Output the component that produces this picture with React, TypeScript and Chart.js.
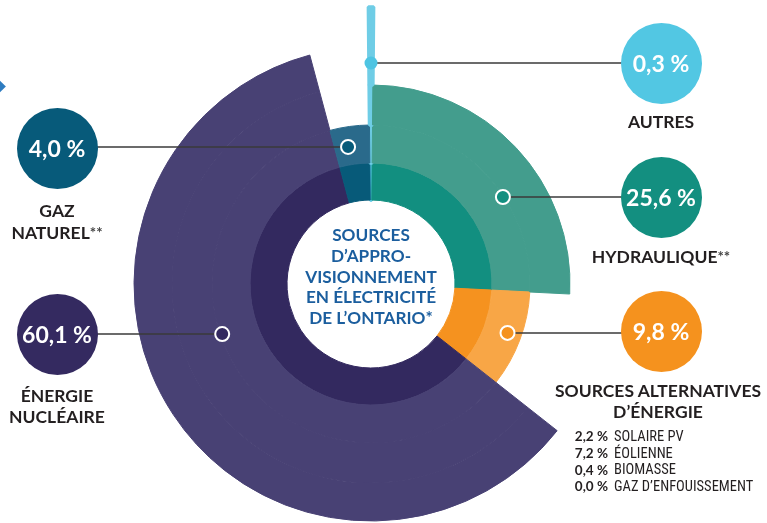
import React, { useEffect, useRef } from "react";
import { Chart, registerables } from "chart.js";

Chart.register(...registerables);

// ---------- data ----------
const categories = [
  "Autres",
  "Hydraulique",
  "Sources alternatives d’énergie",
  "Énergie nucléaire",
  "Gaz naturel",
];
const shares = [0.3, 25.6, 9.8, 60.1, 4.0];
const categoryLabels = [
  ["AUTRES"],
  ["HYDRAULIQUE**"],
  ["SOURCES ALTERNATIVES", "D’ÉNERGIE"],
  ["ÉNERGIE", "NUCLÉAIRE"],
  ["GAZ", "NATUREL**"],
];
const altSources = ["SOLAIRE PV", "ÉOLIENNE", "BIOMASSE", "GAZ D’ENFOUISSEMENT"];
const altShares = [2.2, 7.2, 0.4, 0.0];
const centerTitle = ["SOURCES", "D’APPRO-", "VISIONNEMENT", "EN ÉLECTRICITÉ", "DE L’ONTARIO*"];

// ---------- style ----------
const ringDepth = [5, 3, 2, 4, 2]; // how many rings each category reaches (1 = inner only)
const ringThickness = [40, 38, 40, 38, 37]; // outermost ring first
const innerColors = ["#56c6e3", "#128f80", "#f5921f", "#33295f", "#075a79"];
const outerColors = ["#6fcde6", "#439d8d", "#f8a646", "#484174", "#2a6a8b"];
const badgeColors = ["#52c7e3", "#138f80", "#f5921e", "#342a60", "#075a7a"];
const markerBearing = [0, 56.6, 109.7, 251.4, 350.5];
const markerRadius = [221, 158, 145, 157, 139];
const badgeCenters = [
  { x: 661, y: 63 },
  { x: 661, y: 197 },
  { x: 661, y: 331 },
  { x: 57, y: 334 },
  { x: 57, y: 148 },
];
const labelTops = [112, 246, 381, 386, 201];
const OUTER_R = 277;
const INNER_R = 84;
const TEXT = "#231f20";
const BLUE = "#1b5e9e";

const fmt = (v: number) => v.toFixed(1).replace(".", ",") + "\u00a0%";

const markerPlugin = {
  id: "markers",
  afterDatasetsDraw(chart: any) {
    const meta = chart.getDatasetMeta(0);
    const arc = meta.data[0];
    if (!arc) return;
    const cx = arc.x;
    const cy = arc.y;
    const ctx = chart.ctx;
    ctx.save();
    shares.forEach((_, i) => {
      const b = (markerBearing[i] * Math.PI) / 180;
      const mx = cx + markerRadius[i] * Math.sin(b);
      const my = cy - markerRadius[i] * Math.cos(b);
      const bx = badgeCenters[i].x;
      ctx.beginPath();
      ctx.moveTo(mx, my);
      ctx.lineTo(bx, my);
      ctx.strokeStyle = "#3a3a3a";
      ctx.lineWidth = 1.5;
      ctx.stroke();
      ctx.beginPath();
      if (i === 0) {
        ctx.arc(mx, my, 6.5, 0, Math.PI * 2);
        ctx.fillStyle = "#4ec4e2";
        ctx.fill();
      } else {
        ctx.arc(mx, my, 7, 0, Math.PI * 2);
        ctx.fillStyle = innerColors[i];
        ctx.fill();
        ctx.lineWidth = 2;
        ctx.strokeStyle = "#ffffff";
        ctx.stroke();
      }
    });
    ctx.restore();
  },
};

export default function App() {
  const canvasRef = useRef<HTMLCanvasElement | null>(null);

  useEffect(() => {
    if (!canvasRef.current) return;
    const sum = shares.reduce((a, b) => a + b, 0);
    const levels = [5, 4, 3, 2, 1];
    const datasets = levels.map((level, i) => {
      const colors = shares.map((_, c) =>
        ringDepth[c] >= level ? (level === 1 ? innerColors[c] : outerColors[c]) : "rgba(0,0,0,0)"
      );
      return {
        label: "ring" + level,
        data: shares,
        backgroundColor: colors,
        borderColor: colors,
        borderWidth: shares.map((_, c) => (c === 0 ? 3.5 : 1)),
        weight: ringThickness[i],
      };
    });
    const chart = new Chart(canvasRef.current, {
      type: "doughnut",
      data: { labels: categories, datasets },
      options: {
        animation: false,
        responsive: false,
        maintainAspectRatio: false,
        events: [],
        radius: OUTER_R,
        cutout: (INNER_R / OUTER_R) * 100 + "%",
        rotation: -(shares[0] / sum) * 180,
        layout: { padding: { left: 0, right: 25, top: 45, bottom: 0 } },
        plugins: { legend: { display: false }, tooltip: { enabled: false } },
      } as any,
      plugins: [markerPlugin],
    });
    return () => chart.destroy();
  }, []);

  const font = "Lato, 'Open Sans', sans-serif";

  return (
    <div
      style={{
        position: "fixed",
        left: 0,
        top: 0,
        width: 767,
        height: 523,
        background: "#ffffff",
        overflow: "hidden",
        fontFamily: font,
      }}
    >
      <canvas ref={canvasRef} width={767} height={523} style={{ position: "absolute", left: 0, top: 0 }} />
      {/* left pointer */}
      <div
        style={{
          position: "absolute",
          left: -5,
          top: 82,
          width: 9,
          height: 9,
          background: "#2e7cc0",
          transform: "rotate(45deg)",
        }}
      />
      {/* center title */}
      <div
        style={{
          position: "absolute",
          left: 271,
          top: 225,
          width: 200,
          textAlign: "center",
          color: BLUE,
          fontWeight: 700,
          fontSize: 17.2,
          lineHeight: "20.75px",
        }}
      >
        {centerTitle.map((t, i) => (
          <div key={i}>{t}</div>
        ))}
      </div>
      {/* badges */}
      {shares.map((v, i) => (
        <div
          key={"b" + i}
          style={{
            position: "absolute",
            left: badgeCenters[i].x - 40.5,
            top: badgeCenters[i].y - 40.5,
            width: 81,
            height: 81,
            borderRadius: "50%",
            background: badgeColors[i],
            color: "#ffffff",
            display: "flex",
            alignItems: "center",
            justifyContent: "center",
            fontWeight: 700,
            fontSize: 23,
          }}
        >
          {fmt(v)}
        </div>
      ))}
      {/* labels */}
      {categoryLabels.map((lines, i) => (
        <div
          key={"l" + i}
          style={{
            position: "absolute",
            left: badgeCenters[i].x - 120 - (i === 2 ? 3 : 0),
            top: labelTops[i],
            width: 240,
            textAlign: "center",
            color: TEXT,
            fontWeight: 700,
            fontSize: 17.5,
            lineHeight: "20.5px",
          }}
        >
          {lines.map((t, j) => {
            const star = t.endsWith("**");
            return (
              <div key={j}>
                {star ? t.slice(0, -2) : t}
                {star ? (
                  <span style={{ fontSize: 15, color: "#444", verticalAlign: "1px" }}>**</span>
                ) : null}
              </div>
            );
          })}
        </div>
      ))}
      {/* alternative sources breakdown */}
      <div style={{ position: "absolute", left: 540, top: 428, width: 227 }}>
        {altSources.map((name, i) => (
          <div key={"a" + i} style={{ display: "flex", height: 16.7, alignItems: "center", color: TEXT }}>
            <span style={{ width: 68, textAlign: "right", fontWeight: 700, fontSize: 13.5 }}>{fmt(altShares[i])}</span>
            <span
              style={{
                marginLeft: 6,
                fontFamily: "'Liberation Sans Narrow', 'Roboto Condensed', Roboto, sans-serif",
                fontSize: 14.5,
              }}
            >
              {name}
            </span>
          </div>
        ))}
      </div>
    </div>
  );
}
